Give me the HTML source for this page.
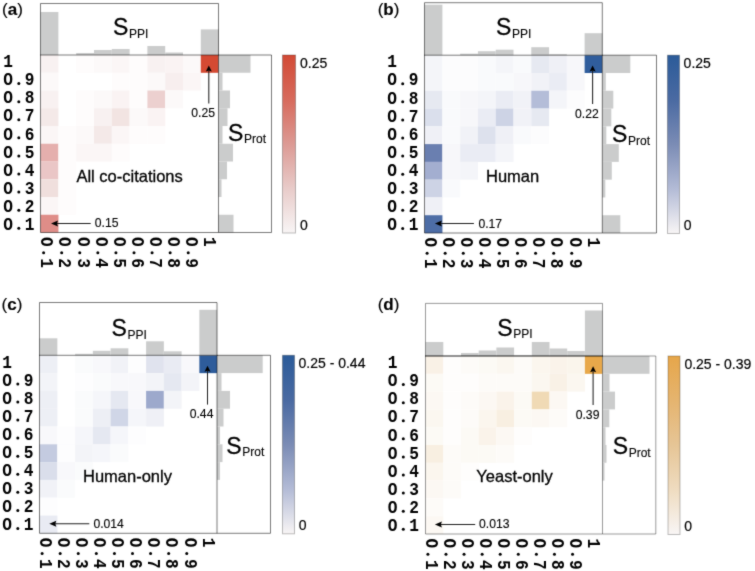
<!DOCTYPE html><html><head><meta charset="utf-8"><style>html,body{margin:0;padding:0;background:#fff;width:755px;height:571px;overflow:hidden}svg{display:block}#w{width:755px;height:571px}text{fill:#000}</style></head><body>
<div id="w"><svg width="755" height="571" viewBox="0 0 755 571"><defs><filter id="bl" color-interpolation-filters="sRGB" x="0" y="0" width="755" height="571" filterUnits="userSpaceOnUse"><feConvolveMatrix order="3" kernelMatrix="0.025 0.08 0.025 0.08 0.58 0.08 0.025 0.08 0.025" preserveAlpha="true"/></filter></defs><rect width="755" height="571" fill="#fff"/><g filter="url(#bl)"><rect width="755" height="571" fill="#fff"/>
<rect x="40.60" y="55.00" width="17.85" height="17.80" fill="#f8f1f1"/>
<rect x="76.20" y="55.00" width="17.85" height="17.80" fill="#fefcfc"/>
<rect x="94.00" y="55.00" width="17.85" height="17.80" fill="#fcf9f9"/>
<rect x="111.80" y="55.00" width="17.85" height="17.80" fill="#fbf6f6"/>
<rect x="129.60" y="55.00" width="17.85" height="17.80" fill="#fefcfc"/>
<rect x="147.40" y="55.00" width="17.85" height="17.80" fill="#f8f1f1"/>
<rect x="165.20" y="55.00" width="17.85" height="17.80" fill="#faf3f3"/>
<rect x="183.00" y="55.00" width="17.85" height="17.80" fill="#fcf9f9"/>
<rect x="200.80" y="55.00" width="17.85" height="17.80" fill="#d44a33"/>
<rect x="40.60" y="72.75" width="17.85" height="17.80" fill="#fcf9f9"/>
<rect x="111.80" y="72.75" width="17.85" height="17.80" fill="#fefcfc"/>
<rect x="129.60" y="72.75" width="17.85" height="17.80" fill="#fefcfc"/>
<rect x="147.40" y="72.75" width="17.85" height="17.80" fill="#fcf9f9"/>
<rect x="165.20" y="72.75" width="17.85" height="17.80" fill="#f7eeee"/>
<rect x="183.00" y="72.75" width="17.85" height="17.80" fill="#fbf6f6"/>
<rect x="40.60" y="90.50" width="17.85" height="17.80" fill="#f8f1f1"/>
<rect x="76.20" y="90.50" width="17.85" height="17.80" fill="#fefcfc"/>
<rect x="94.00" y="90.50" width="17.85" height="17.80" fill="#fcf9f9"/>
<rect x="111.80" y="90.50" width="17.85" height="17.80" fill="#faf3f3"/>
<rect x="129.60" y="90.50" width="17.85" height="17.80" fill="#fefcfc"/>
<rect x="147.40" y="90.50" width="17.85" height="17.80" fill="#ecd0cf"/>
<rect x="165.20" y="90.50" width="17.85" height="17.80" fill="#fcf9f9"/>
<rect x="40.60" y="108.25" width="17.85" height="17.80" fill="#f4e9e8"/>
<rect x="76.20" y="108.25" width="17.85" height="17.80" fill="#fefcfc"/>
<rect x="94.00" y="108.25" width="17.85" height="17.80" fill="#f8f1f1"/>
<rect x="111.80" y="108.25" width="17.85" height="17.80" fill="#f2e4e2"/>
<rect x="129.60" y="108.25" width="17.85" height="17.80" fill="#fcf9f9"/>
<rect x="147.40" y="108.25" width="17.85" height="17.80" fill="#faf3f3"/>
<rect x="40.60" y="126.00" width="17.85" height="17.80" fill="#fbf6f6"/>
<rect x="58.40" y="126.00" width="17.85" height="17.80" fill="#fefcfc"/>
<rect x="76.20" y="126.00" width="17.85" height="17.80" fill="#fcf9f9"/>
<rect x="94.00" y="126.00" width="17.85" height="17.80" fill="#f4e9e8"/>
<rect x="111.80" y="126.00" width="17.85" height="17.80" fill="#fbf6f6"/>
<rect x="129.60" y="126.00" width="17.85" height="17.80" fill="#fefcfc"/>
<rect x="147.40" y="126.00" width="17.85" height="17.80" fill="#fefcfc"/>
<rect x="40.60" y="143.75" width="17.85" height="17.80" fill="#e5afad"/>
<rect x="58.40" y="143.75" width="17.85" height="17.80" fill="#fefcfc"/>
<rect x="76.20" y="143.75" width="17.85" height="17.80" fill="#fbf6f6"/>
<rect x="94.00" y="143.75" width="17.85" height="17.80" fill="#fbf6f6"/>
<rect x="111.80" y="143.75" width="17.85" height="17.80" fill="#fefcfc"/>
<rect x="40.60" y="161.50" width="17.85" height="17.80" fill="#eac6c6"/>
<rect x="58.40" y="161.50" width="17.85" height="17.80" fill="#fefcfc"/>
<rect x="40.60" y="179.25" width="17.85" height="17.80" fill="#f0dfdd"/>
<rect x="58.40" y="179.25" width="17.85" height="17.80" fill="#fefcfc"/>
<rect x="40.60" y="197.00" width="17.85" height="17.80" fill="#fbf6f6"/>
<rect x="58.40" y="197.00" width="17.85" height="17.80" fill="#fefcfc"/>
<rect x="40.60" y="214.75" width="17.85" height="17.80" fill="#df8d88"/>
<rect x="40.60" y="12.00" width="17.80" height="43.00" fill="#cbcccc"/>
<rect x="76.20" y="53.00" width="17.80" height="2.00" fill="#cbcccc"/>
<rect x="94.00" y="50.00" width="17.80" height="5.00" fill="#cbcccc"/>
<rect x="111.80" y="49.00" width="17.80" height="6.00" fill="#cbcccc"/>
<rect x="147.40" y="46.00" width="17.80" height="9.00" fill="#cbcccc"/>
<rect x="165.20" y="52.50" width="17.80" height="2.50" fill="#cbcccc"/>
<rect x="200.80" y="29.40" width="17.80" height="25.60" fill="#cbcccc"/>
<rect x="218.50" y="55.00" width="32.00" height="17.75" fill="#cbcccc"/>
<rect x="218.50" y="72.75" width="4.00" height="17.75" fill="#cbcccc"/>
<rect x="218.50" y="90.50" width="11.50" height="17.75" fill="#cbcccc"/>
<rect x="218.50" y="108.25" width="9.00" height="17.75" fill="#cbcccc"/>
<rect x="218.50" y="126.00" width="4.00" height="17.75" fill="#cbcccc"/>
<rect x="218.50" y="143.75" width="14.50" height="17.75" fill="#cbcccc"/>
<rect x="218.50" y="161.50" width="8.50" height="17.75" fill="#cbcccc"/>
<rect x="218.50" y="179.25" width="3.00" height="17.75" fill="#cbcccc"/>
<rect x="218.50" y="214.75" width="15.00" height="17.75" fill="#cbcccc"/>
<path d="M40.5 232.5 L40.5 3.5 L218.5 3.5 L218.5 232.5 Z M218.5 55 L271.5 55 L271.5 232.5 L218.5 232.5" fill="none" stroke="rgba(0,0,0,0.52)" stroke-width="1"/>
<path d="M40.0 55 L219.0 55" fill="none" stroke="rgba(0,0,0,0.52)" stroke-width="1"/>
<defs><linearGradient id="ga" x1="0" y1="1" x2="0" y2="0"><stop offset="0" stop-color="#f8f5f5"/><stop offset="0.25" stop-color="#e8cbc9"/><stop offset="0.5" stop-color="#dc9a94"/><stop offset="0.75" stop-color="#d76a5c"/><stop offset="1" stop-color="#d24a35"/></linearGradient></defs>
<rect x="282.50" y="55.00" width="13.00" height="178.00" fill="url(#ga)" stroke="rgba(0,0,0,0.25)" stroke-width="1"/>
<text transform="translate(3.30,67.20) scale(0.95,1.06)" font-family="Liberation Mono" font-weight="bold" font-size="17">1</text>
<text transform="translate(3.30,85.28) scale(0.95,1.06)" font-family="Liberation Mono" font-weight="bold" font-size="17">O</text>
<circle cx="18.80" cy="83.58" r="1.5" fill="#000"/>
<text transform="translate(24.80,85.28) scale(0.95,1.06)" font-family="Liberation Mono" font-weight="bold" font-size="17">9</text>
<text transform="translate(3.30,103.36) scale(0.95,1.06)" font-family="Liberation Mono" font-weight="bold" font-size="17">O</text>
<circle cx="18.80" cy="101.66" r="1.5" fill="#000"/>
<text transform="translate(24.80,103.36) scale(0.95,1.06)" font-family="Liberation Mono" font-weight="bold" font-size="17">8</text>
<text transform="translate(3.30,121.44) scale(0.95,1.06)" font-family="Liberation Mono" font-weight="bold" font-size="17">O</text>
<circle cx="18.80" cy="119.74" r="1.5" fill="#000"/>
<text transform="translate(24.80,121.44) scale(0.95,1.06)" font-family="Liberation Mono" font-weight="bold" font-size="17">7</text>
<text transform="translate(3.30,139.52) scale(0.95,1.06)" font-family="Liberation Mono" font-weight="bold" font-size="17">O</text>
<circle cx="18.80" cy="137.82" r="1.5" fill="#000"/>
<text transform="translate(24.80,139.52) scale(0.95,1.06)" font-family="Liberation Mono" font-weight="bold" font-size="17">6</text>
<text transform="translate(3.30,157.60) scale(0.95,1.06)" font-family="Liberation Mono" font-weight="bold" font-size="17">O</text>
<circle cx="18.80" cy="155.90" r="1.5" fill="#000"/>
<text transform="translate(24.80,157.60) scale(0.95,1.06)" font-family="Liberation Mono" font-weight="bold" font-size="17">5</text>
<text transform="translate(3.30,175.68) scale(0.95,1.06)" font-family="Liberation Mono" font-weight="bold" font-size="17">O</text>
<circle cx="18.80" cy="173.98" r="1.5" fill="#000"/>
<text transform="translate(24.80,175.68) scale(0.95,1.06)" font-family="Liberation Mono" font-weight="bold" font-size="17">4</text>
<text transform="translate(3.30,193.76) scale(0.95,1.06)" font-family="Liberation Mono" font-weight="bold" font-size="17">O</text>
<circle cx="18.80" cy="192.06" r="1.5" fill="#000"/>
<text transform="translate(24.80,193.76) scale(0.95,1.06)" font-family="Liberation Mono" font-weight="bold" font-size="17">3</text>
<text transform="translate(3.30,211.84) scale(0.95,1.06)" font-family="Liberation Mono" font-weight="bold" font-size="17">O</text>
<circle cx="18.80" cy="210.14" r="1.5" fill="#000"/>
<text transform="translate(24.80,211.84) scale(0.95,1.06)" font-family="Liberation Mono" font-weight="bold" font-size="17">2</text>
<text transform="translate(3.30,229.92) scale(0.95,1.06)" font-family="Liberation Mono" font-weight="bold" font-size="17">O</text>
<circle cx="18.80" cy="228.22" r="1.5" fill="#000"/>
<text transform="translate(24.80,229.92) scale(0.95,1.06)" font-family="Liberation Mono" font-weight="bold" font-size="17">1</text>
<text transform="translate(41.40,236.90) rotate(90) scale(0.95,1.06)" font-family="Liberation Mono" font-weight="bold" font-size="17">O</text>
<circle cx="43.60" cy="252.70" r="1.5" fill="#000"/>
<text transform="translate(41.40,258.30) rotate(90) scale(0.95,1.06)" font-family="Liberation Mono" font-weight="bold" font-size="17">1</text>
<text transform="translate(59.48,236.90) rotate(90) scale(0.95,1.06)" font-family="Liberation Mono" font-weight="bold" font-size="17">O</text>
<circle cx="61.68" cy="252.70" r="1.5" fill="#000"/>
<text transform="translate(59.48,258.30) rotate(90) scale(0.95,1.06)" font-family="Liberation Mono" font-weight="bold" font-size="17">2</text>
<text transform="translate(77.56,236.90) rotate(90) scale(0.95,1.06)" font-family="Liberation Mono" font-weight="bold" font-size="17">O</text>
<circle cx="79.76" cy="252.70" r="1.5" fill="#000"/>
<text transform="translate(77.56,258.30) rotate(90) scale(0.95,1.06)" font-family="Liberation Mono" font-weight="bold" font-size="17">3</text>
<text transform="translate(95.64,236.90) rotate(90) scale(0.95,1.06)" font-family="Liberation Mono" font-weight="bold" font-size="17">O</text>
<circle cx="97.84" cy="252.70" r="1.5" fill="#000"/>
<text transform="translate(95.64,258.30) rotate(90) scale(0.95,1.06)" font-family="Liberation Mono" font-weight="bold" font-size="17">4</text>
<text transform="translate(113.72,236.90) rotate(90) scale(0.95,1.06)" font-family="Liberation Mono" font-weight="bold" font-size="17">O</text>
<circle cx="115.92" cy="252.70" r="1.5" fill="#000"/>
<text transform="translate(113.72,258.30) rotate(90) scale(0.95,1.06)" font-family="Liberation Mono" font-weight="bold" font-size="17">5</text>
<text transform="translate(131.80,236.90) rotate(90) scale(0.95,1.06)" font-family="Liberation Mono" font-weight="bold" font-size="17">O</text>
<circle cx="134.00" cy="252.70" r="1.5" fill="#000"/>
<text transform="translate(131.80,258.30) rotate(90) scale(0.95,1.06)" font-family="Liberation Mono" font-weight="bold" font-size="17">6</text>
<text transform="translate(149.88,236.90) rotate(90) scale(0.95,1.06)" font-family="Liberation Mono" font-weight="bold" font-size="17">O</text>
<circle cx="152.08" cy="252.70" r="1.5" fill="#000"/>
<text transform="translate(149.88,258.30) rotate(90) scale(0.95,1.06)" font-family="Liberation Mono" font-weight="bold" font-size="17">7</text>
<text transform="translate(167.96,236.90) rotate(90) scale(0.95,1.06)" font-family="Liberation Mono" font-weight="bold" font-size="17">O</text>
<circle cx="170.16" cy="252.70" r="1.5" fill="#000"/>
<text transform="translate(167.96,258.30) rotate(90) scale(0.95,1.06)" font-family="Liberation Mono" font-weight="bold" font-size="17">8</text>
<text transform="translate(186.04,236.90) rotate(90) scale(0.95,1.06)" font-family="Liberation Mono" font-weight="bold" font-size="17">O</text>
<circle cx="188.24" cy="252.70" r="1.5" fill="#000"/>
<text transform="translate(186.04,258.30) rotate(90) scale(0.95,1.06)" font-family="Liberation Mono" font-weight="bold" font-size="17">9</text>
<text transform="translate(204.12,236.90) rotate(90) scale(0.95,1.06)" font-family="Liberation Mono" font-weight="bold" font-size="17">1</text>
<text x="2" y="15" font-family="Liberation Sans" font-size="17" stroke="#000" stroke-width="0.15">(<tspan font-weight="bold">a</tspan>)</text>
<text x="113" y="35" font-family="Liberation Sans" font-size="23" stroke="#000" stroke-width="0.3" >S</text>
<text x="129" y="37.5" font-family="Liberation Sans" font-size="12" stroke="#000" stroke-width="0.12" >PPI</text>
<text x="228" y="140.5" font-family="Liberation Sans" font-size="23" stroke="#000" stroke-width="0.3" >S</text>
<text x="244" y="143" font-family="Liberation Sans" font-size="12" stroke="#000" stroke-width="0.12" >Prot</text>
<text x="76.4" y="181.5" font-family="Liberation Sans" font-size="16.5" stroke="#000" stroke-width="0.3" >All co-citations</text>
<text x="191.3" y="116.9" font-family="Liberation Sans" font-size="12.2" stroke="#000" stroke-width="0.12" >0.25</text>
<text x="94.8" y="227.4" font-family="Liberation Sans" font-size="12.2" stroke="#000" stroke-width="0.12" >0.15</text>
<text x="300" y="67.7" font-family="Liberation Sans" font-size="14" stroke="#000" stroke-width="0.2" >0.25</text>
<text x="300" y="229.9" font-family="Liberation Sans" font-size="14" stroke="#000" stroke-width="0.2" >0</text>
<line x1="208.8" y1="70.4" x2="208.8" y2="103.4" stroke="#1e1e1e" stroke-width="1.05"/>
<path d="M208.8 65.4 L205.8 71.4 L208.8 70.4 L211.8 71.4 Z" fill="#000"/>
<line x1="56" y1="223.5" x2="90.7" y2="223.5" stroke="#1e1e1e" stroke-width="1.05"/>
<path d="M51 223.5 L58 220.5 L57 223.5 L58 226.5 Z" fill="#000"/>
<rect x="424.60" y="55.20" width="17.83" height="17.83" fill="#f4f5f9"/>
<rect x="442.38" y="55.20" width="17.83" height="17.83" fill="#fcfcfd"/>
<rect x="460.16" y="55.20" width="17.83" height="17.83" fill="#fcfcfd"/>
<rect x="477.94" y="55.20" width="17.83" height="17.83" fill="#f9fafc"/>
<rect x="495.72" y="55.20" width="17.83" height="17.83" fill="#f4f5f9"/>
<rect x="513.50" y="55.20" width="17.83" height="17.83" fill="#f9fafc"/>
<rect x="531.28" y="55.20" width="17.83" height="17.83" fill="#e6e9f1"/>
<rect x="549.06" y="55.20" width="17.83" height="17.83" fill="#eff0f6"/>
<rect x="566.84" y="55.20" width="17.83" height="17.83" fill="#f7f7fa"/>
<rect x="584.62" y="55.20" width="17.83" height="17.83" fill="#305d9c"/>
<rect x="424.60" y="72.98" width="17.83" height="17.83" fill="#f4f5f9"/>
<rect x="442.38" y="72.98" width="17.83" height="17.83" fill="#fcfcfd"/>
<rect x="460.16" y="72.98" width="17.83" height="17.83" fill="#fcfcfd"/>
<rect x="477.94" y="72.98" width="17.83" height="17.83" fill="#f9fafc"/>
<rect x="495.72" y="72.98" width="17.83" height="17.83" fill="#f9fafc"/>
<rect x="513.50" y="72.98" width="17.83" height="17.83" fill="#f7f7fa"/>
<rect x="531.28" y="72.98" width="17.83" height="17.83" fill="#f1f2f7"/>
<rect x="549.06" y="72.98" width="17.83" height="17.83" fill="#eaecf4"/>
<rect x="566.84" y="72.98" width="17.83" height="17.83" fill="#f7f7fa"/>
<rect x="424.60" y="90.76" width="17.83" height="17.83" fill="#e6e9f1"/>
<rect x="442.38" y="90.76" width="17.83" height="17.83" fill="#f9fafc"/>
<rect x="460.16" y="90.76" width="17.83" height="17.83" fill="#f7f7fa"/>
<rect x="477.94" y="90.76" width="17.83" height="17.83" fill="#f4f5f9"/>
<rect x="495.72" y="90.76" width="17.83" height="17.83" fill="#eaecf4"/>
<rect x="513.50" y="90.76" width="17.83" height="17.83" fill="#f1f2f7"/>
<rect x="531.28" y="90.76" width="17.83" height="17.83" fill="#b4bdd8"/>
<rect x="549.06" y="90.76" width="17.83" height="17.83" fill="#f4f5f9"/>
<rect x="566.84" y="90.76" width="17.83" height="17.83" fill="#fcfcfd"/>
<rect x="424.60" y="108.54" width="17.83" height="17.83" fill="#dadfec"/>
<rect x="442.38" y="108.54" width="17.83" height="17.83" fill="#f9fafc"/>
<rect x="460.16" y="108.54" width="17.83" height="17.83" fill="#f7f7fa"/>
<rect x="477.94" y="108.54" width="17.83" height="17.83" fill="#eaecf4"/>
<rect x="495.72" y="108.54" width="17.83" height="17.83" fill="#cdd3e5"/>
<rect x="513.50" y="108.54" width="17.83" height="17.83" fill="#f1f2f7"/>
<rect x="531.28" y="108.54" width="17.83" height="17.83" fill="#e6e9f1"/>
<rect x="424.60" y="126.32" width="17.83" height="17.83" fill="#eff0f6"/>
<rect x="442.38" y="126.32" width="17.83" height="17.83" fill="#f9fafc"/>
<rect x="460.16" y="126.32" width="17.83" height="17.83" fill="#f1f2f7"/>
<rect x="477.94" y="126.32" width="17.83" height="17.83" fill="#dde1ed"/>
<rect x="495.72" y="126.32" width="17.83" height="17.83" fill="#eff0f6"/>
<rect x="513.50" y="126.32" width="17.83" height="17.83" fill="#f9fafc"/>
<rect x="531.28" y="126.32" width="17.83" height="17.83" fill="#fcfcfd"/>
<rect x="424.60" y="144.10" width="17.83" height="17.83" fill="#6a7fb0"/>
<rect x="442.38" y="144.10" width="17.83" height="17.83" fill="#f7f7fa"/>
<rect x="460.16" y="144.10" width="17.83" height="17.83" fill="#eaecf4"/>
<rect x="477.94" y="144.10" width="17.83" height="17.83" fill="#eaecf4"/>
<rect x="495.72" y="144.10" width="17.83" height="17.83" fill="#f4f5f9"/>
<rect x="424.60" y="161.88" width="17.83" height="17.83" fill="#a3aed0"/>
<rect x="442.38" y="161.88" width="17.83" height="17.83" fill="#f7f7fa"/>
<rect x="460.16" y="161.88" width="17.83" height="17.83" fill="#f4f5f9"/>
<rect x="424.60" y="179.66" width="17.83" height="17.83" fill="#cdd3e5"/>
<rect x="442.38" y="179.66" width="17.83" height="17.83" fill="#f9fafc"/>
<rect x="424.60" y="197.44" width="17.83" height="17.83" fill="#eff0f6"/>
<rect x="424.60" y="215.22" width="17.83" height="17.83" fill="#4d6da6"/>
<rect x="424.60" y="4.70" width="17.78" height="50.50" fill="#cbcccc"/>
<rect x="460.16" y="53.70" width="17.78" height="1.50" fill="#cbcccc"/>
<rect x="477.94" y="51.20" width="17.78" height="4.00" fill="#cbcccc"/>
<rect x="495.72" y="49.70" width="17.78" height="5.50" fill="#cbcccc"/>
<rect x="531.28" y="47.20" width="17.78" height="8.00" fill="#cbcccc"/>
<rect x="549.06" y="54.20" width="17.78" height="1.00" fill="#cbcccc"/>
<rect x="584.62" y="33.20" width="17.78" height="22.00" fill="#cbcccc"/>
<rect x="602.30" y="55.20" width="28.00" height="17.78" fill="#cbcccc"/>
<rect x="602.30" y="72.98" width="3.50" height="17.78" fill="#cbcccc"/>
<rect x="602.30" y="90.76" width="11.00" height="17.78" fill="#cbcccc"/>
<rect x="602.30" y="108.54" width="9.00" height="17.78" fill="#cbcccc"/>
<rect x="602.30" y="126.32" width="4.00" height="17.78" fill="#cbcccc"/>
<rect x="602.30" y="144.10" width="16.50" height="17.78" fill="#cbcccc"/>
<rect x="602.30" y="161.88" width="9.50" height="17.78" fill="#cbcccc"/>
<rect x="602.30" y="179.66" width="3.00" height="17.78" fill="#cbcccc"/>
<rect x="602.30" y="215.22" width="18.00" height="17.78" fill="#cbcccc"/>
<path d="M424.5 233 L424.5 2.7 L602.3 2.7 L602.3 233 Z M602.3 55.2 L656.5 55.2 L656.5 233 L602.3 233" fill="none" stroke="rgba(0,0,0,0.52)" stroke-width="1"/>
<path d="M424.0 55.2 L602.8 55.2" fill="none" stroke="rgba(0,0,0,0.52)" stroke-width="1"/>
<defs><linearGradient id="gb" x1="0" y1="1" x2="0" y2="0"><stop offset="0" stop-color="#f8f5f5"/><stop offset="0.25" stop-color="#b3bbd6"/><stop offset="0.5" stop-color="#7b8cb5"/><stop offset="0.75" stop-color="#4a6aa2"/><stop offset="1" stop-color="#2b5b99"/></linearGradient></defs>
<rect x="667.50" y="55.20" width="12.00" height="178.30" fill="url(#gb)" stroke="rgba(0,0,0,0.25)" stroke-width="1"/>
<text transform="translate(387.20,67.40) scale(0.95,1.06)" font-family="Liberation Mono" font-weight="bold" font-size="17">1</text>
<text transform="translate(387.20,85.48) scale(0.95,1.06)" font-family="Liberation Mono" font-weight="bold" font-size="17">O</text>
<circle cx="402.70" cy="83.78" r="1.5" fill="#000"/>
<text transform="translate(408.70,85.48) scale(0.95,1.06)" font-family="Liberation Mono" font-weight="bold" font-size="17">9</text>
<text transform="translate(387.20,103.56) scale(0.95,1.06)" font-family="Liberation Mono" font-weight="bold" font-size="17">O</text>
<circle cx="402.70" cy="101.86" r="1.5" fill="#000"/>
<text transform="translate(408.70,103.56) scale(0.95,1.06)" font-family="Liberation Mono" font-weight="bold" font-size="17">8</text>
<text transform="translate(387.20,121.64) scale(0.95,1.06)" font-family="Liberation Mono" font-weight="bold" font-size="17">O</text>
<circle cx="402.70" cy="119.94" r="1.5" fill="#000"/>
<text transform="translate(408.70,121.64) scale(0.95,1.06)" font-family="Liberation Mono" font-weight="bold" font-size="17">7</text>
<text transform="translate(387.20,139.72) scale(0.95,1.06)" font-family="Liberation Mono" font-weight="bold" font-size="17">O</text>
<circle cx="402.70" cy="138.02" r="1.5" fill="#000"/>
<text transform="translate(408.70,139.72) scale(0.95,1.06)" font-family="Liberation Mono" font-weight="bold" font-size="17">6</text>
<text transform="translate(387.20,157.80) scale(0.95,1.06)" font-family="Liberation Mono" font-weight="bold" font-size="17">O</text>
<circle cx="402.70" cy="156.10" r="1.5" fill="#000"/>
<text transform="translate(408.70,157.80) scale(0.95,1.06)" font-family="Liberation Mono" font-weight="bold" font-size="17">5</text>
<text transform="translate(387.20,175.88) scale(0.95,1.06)" font-family="Liberation Mono" font-weight="bold" font-size="17">O</text>
<circle cx="402.70" cy="174.18" r="1.5" fill="#000"/>
<text transform="translate(408.70,175.88) scale(0.95,1.06)" font-family="Liberation Mono" font-weight="bold" font-size="17">4</text>
<text transform="translate(387.20,193.96) scale(0.95,1.06)" font-family="Liberation Mono" font-weight="bold" font-size="17">O</text>
<circle cx="402.70" cy="192.26" r="1.5" fill="#000"/>
<text transform="translate(408.70,193.96) scale(0.95,1.06)" font-family="Liberation Mono" font-weight="bold" font-size="17">3</text>
<text transform="translate(387.20,212.04) scale(0.95,1.06)" font-family="Liberation Mono" font-weight="bold" font-size="17">O</text>
<circle cx="402.70" cy="210.34" r="1.5" fill="#000"/>
<text transform="translate(408.70,212.04) scale(0.95,1.06)" font-family="Liberation Mono" font-weight="bold" font-size="17">2</text>
<text transform="translate(387.20,230.12) scale(0.95,1.06)" font-family="Liberation Mono" font-weight="bold" font-size="17">O</text>
<circle cx="402.70" cy="228.42" r="1.5" fill="#000"/>
<text transform="translate(408.70,230.12) scale(0.95,1.06)" font-family="Liberation Mono" font-weight="bold" font-size="17">1</text>
<text transform="translate(424.90,237.40) rotate(90) scale(0.95,1.06)" font-family="Liberation Mono" font-weight="bold" font-size="17">O</text>
<circle cx="427.10" cy="253.20" r="1.5" fill="#000"/>
<text transform="translate(424.90,258.80) rotate(90) scale(0.95,1.06)" font-family="Liberation Mono" font-weight="bold" font-size="17">1</text>
<text transform="translate(442.98,237.40) rotate(90) scale(0.95,1.06)" font-family="Liberation Mono" font-weight="bold" font-size="17">O</text>
<circle cx="445.18" cy="253.20" r="1.5" fill="#000"/>
<text transform="translate(442.98,258.80) rotate(90) scale(0.95,1.06)" font-family="Liberation Mono" font-weight="bold" font-size="17">2</text>
<text transform="translate(461.06,237.40) rotate(90) scale(0.95,1.06)" font-family="Liberation Mono" font-weight="bold" font-size="17">O</text>
<circle cx="463.26" cy="253.20" r="1.5" fill="#000"/>
<text transform="translate(461.06,258.80) rotate(90) scale(0.95,1.06)" font-family="Liberation Mono" font-weight="bold" font-size="17">3</text>
<text transform="translate(479.14,237.40) rotate(90) scale(0.95,1.06)" font-family="Liberation Mono" font-weight="bold" font-size="17">O</text>
<circle cx="481.34" cy="253.20" r="1.5" fill="#000"/>
<text transform="translate(479.14,258.80) rotate(90) scale(0.95,1.06)" font-family="Liberation Mono" font-weight="bold" font-size="17">4</text>
<text transform="translate(497.22,237.40) rotate(90) scale(0.95,1.06)" font-family="Liberation Mono" font-weight="bold" font-size="17">O</text>
<circle cx="499.42" cy="253.20" r="1.5" fill="#000"/>
<text transform="translate(497.22,258.80) rotate(90) scale(0.95,1.06)" font-family="Liberation Mono" font-weight="bold" font-size="17">5</text>
<text transform="translate(515.30,237.40) rotate(90) scale(0.95,1.06)" font-family="Liberation Mono" font-weight="bold" font-size="17">O</text>
<circle cx="517.50" cy="253.20" r="1.5" fill="#000"/>
<text transform="translate(515.30,258.80) rotate(90) scale(0.95,1.06)" font-family="Liberation Mono" font-weight="bold" font-size="17">6</text>
<text transform="translate(533.38,237.40) rotate(90) scale(0.95,1.06)" font-family="Liberation Mono" font-weight="bold" font-size="17">O</text>
<circle cx="535.58" cy="253.20" r="1.5" fill="#000"/>
<text transform="translate(533.38,258.80) rotate(90) scale(0.95,1.06)" font-family="Liberation Mono" font-weight="bold" font-size="17">7</text>
<text transform="translate(551.46,237.40) rotate(90) scale(0.95,1.06)" font-family="Liberation Mono" font-weight="bold" font-size="17">O</text>
<circle cx="553.66" cy="253.20" r="1.5" fill="#000"/>
<text transform="translate(551.46,258.80) rotate(90) scale(0.95,1.06)" font-family="Liberation Mono" font-weight="bold" font-size="17">8</text>
<text transform="translate(569.54,237.40) rotate(90) scale(0.95,1.06)" font-family="Liberation Mono" font-weight="bold" font-size="17">O</text>
<circle cx="571.74" cy="253.20" r="1.5" fill="#000"/>
<text transform="translate(569.54,258.80) rotate(90) scale(0.95,1.06)" font-family="Liberation Mono" font-weight="bold" font-size="17">9</text>
<text transform="translate(587.62,237.40) rotate(90) scale(0.95,1.06)" font-family="Liberation Mono" font-weight="bold" font-size="17">1</text>
<text x="377.7" y="15" font-family="Liberation Sans" font-size="17" stroke="#000" stroke-width="0.15">(<tspan font-weight="bold">b</tspan>)</text>
<text x="496" y="35" font-family="Liberation Sans" font-size="23" stroke="#000" stroke-width="0.3" >S</text>
<text x="512" y="37.5" font-family="Liberation Sans" font-size="12" stroke="#000" stroke-width="0.12" >PPI</text>
<text x="612" y="142" font-family="Liberation Sans" font-size="23" stroke="#000" stroke-width="0.3" >S</text>
<text x="628" y="144.5" font-family="Liberation Sans" font-size="12" stroke="#000" stroke-width="0.12" >Prot</text>
<text x="486" y="181.5" font-family="Liberation Sans" font-size="16.5" stroke="#000" stroke-width="0.3" >Human</text>
<text x="575" y="117.5" font-family="Liberation Sans" font-size="12.2" stroke="#000" stroke-width="0.12" >0.22</text>
<text x="478.4" y="227.5" font-family="Liberation Sans" font-size="12.2" stroke="#000" stroke-width="0.12" >0.17</text>
<text x="683.6" y="68.3" font-family="Liberation Sans" font-size="14" stroke="#000" stroke-width="0.2" >0.25</text>
<text x="683.8" y="230.1" font-family="Liberation Sans" font-size="14" stroke="#000" stroke-width="0.2" >0</text>
<line x1="592.6" y1="70.4" x2="592.6" y2="104" stroke="#1e1e1e" stroke-width="1.05"/>
<path d="M592.6 65.4 L589.6 71.4 L592.6 70.4 L595.6 71.4 Z" fill="#000"/>
<line x1="439.9" y1="223.5" x2="473.9" y2="223.5" stroke="#1e1e1e" stroke-width="1.05"/>
<path d="M434.9 223.5 L441.9 220.5 L440.9 223.5 L441.9 226.5 Z" fill="#000"/>
<rect x="39.60" y="355.30" width="17.80" height="17.85" fill="#edeff5"/>
<rect x="75.10" y="355.30" width="17.80" height="17.85" fill="#fafbfc"/>
<rect x="92.85" y="355.30" width="17.80" height="17.85" fill="#f8f8fb"/>
<rect x="110.60" y="355.30" width="17.80" height="17.85" fill="#f1f2f7"/>
<rect x="128.35" y="355.30" width="17.80" height="17.85" fill="#fdfdfe"/>
<rect x="146.10" y="355.30" width="17.80" height="17.85" fill="#e0e3ee"/>
<rect x="163.85" y="355.30" width="17.80" height="17.85" fill="#e9ebf3"/>
<rect x="181.60" y="355.30" width="17.80" height="17.85" fill="#f8f8fb"/>
<rect x="199.35" y="355.30" width="17.80" height="17.85" fill="#2e5c9b"/>
<rect x="39.60" y="373.10" width="17.80" height="17.85" fill="#f3f4f8"/>
<rect x="75.10" y="373.10" width="17.80" height="17.85" fill="#fdfdfe"/>
<rect x="92.85" y="373.10" width="17.80" height="17.85" fill="#fafbfc"/>
<rect x="110.60" y="373.10" width="17.80" height="17.85" fill="#f8f8fb"/>
<rect x="128.35" y="373.10" width="17.80" height="17.85" fill="#f8f8fb"/>
<rect x="146.10" y="373.10" width="17.80" height="17.85" fill="#f3f4f8"/>
<rect x="163.85" y="373.10" width="17.80" height="17.85" fill="#e5e8f1"/>
<rect x="181.60" y="373.10" width="17.80" height="17.85" fill="#f3f4f8"/>
<rect x="39.60" y="390.90" width="17.80" height="17.85" fill="#edeff5"/>
<rect x="75.10" y="390.90" width="17.80" height="17.85" fill="#fafbfc"/>
<rect x="92.85" y="390.90" width="17.80" height="17.85" fill="#f5f6fa"/>
<rect x="110.60" y="390.90" width="17.80" height="17.85" fill="#e5e8f1"/>
<rect x="128.35" y="390.90" width="17.80" height="17.85" fill="#f8f8fb"/>
<rect x="146.10" y="390.90" width="17.80" height="17.85" fill="#9da9cc"/>
<rect x="163.85" y="390.90" width="17.80" height="17.85" fill="#f3f4f8"/>
<rect x="39.60" y="408.70" width="17.80" height="17.85" fill="#edeff5"/>
<rect x="75.10" y="408.70" width="17.80" height="17.85" fill="#fafbfc"/>
<rect x="92.85" y="408.70" width="17.80" height="17.85" fill="#edeff5"/>
<rect x="110.60" y="408.70" width="17.80" height="17.85" fill="#d0d6e7"/>
<rect x="128.35" y="408.70" width="17.80" height="17.85" fill="#f5f6fa"/>
<rect x="146.10" y="408.70" width="17.80" height="17.85" fill="#eff0f6"/>
<rect x="39.60" y="426.50" width="17.80" height="17.85" fill="#f8f8fb"/>
<rect x="57.35" y="426.50" width="17.80" height="17.85" fill="#fdfdfe"/>
<rect x="75.10" y="426.50" width="17.80" height="17.85" fill="#f5f6fa"/>
<rect x="92.85" y="426.50" width="17.80" height="17.85" fill="#e5e8f1"/>
<rect x="110.60" y="426.50" width="17.80" height="17.85" fill="#f5f6fa"/>
<rect x="128.35" y="426.50" width="17.80" height="17.85" fill="#fdfdfe"/>
<rect x="39.60" y="444.30" width="17.80" height="17.85" fill="#c4cbe0"/>
<rect x="57.35" y="444.30" width="17.80" height="17.85" fill="#fdfdfe"/>
<rect x="75.10" y="444.30" width="17.80" height="17.85" fill="#f3f4f8"/>
<rect x="92.85" y="444.30" width="17.80" height="17.85" fill="#f5f6fa"/>
<rect x="110.60" y="444.30" width="17.80" height="17.85" fill="#fafbfc"/>
<rect x="39.60" y="462.10" width="17.80" height="17.85" fill="#dadeeb"/>
<rect x="57.35" y="462.10" width="17.80" height="17.85" fill="#f8f8fb"/>
<rect x="75.10" y="462.10" width="17.80" height="17.85" fill="#fafbfc"/>
<rect x="39.60" y="479.90" width="17.80" height="17.85" fill="#f1f2f7"/>
<rect x="57.35" y="479.90" width="17.80" height="17.85" fill="#fafbfc"/>
<rect x="39.60" y="497.70" width="17.80" height="17.85" fill="#fdfdfe"/>
<rect x="39.60" y="515.50" width="17.80" height="17.85" fill="#e9ebf3"/>
<rect x="39.60" y="338.30" width="17.75" height="17.00" fill="#cbcccc"/>
<rect x="75.10" y="353.80" width="17.75" height="1.50" fill="#cbcccc"/>
<rect x="92.85" y="350.80" width="17.75" height="4.50" fill="#cbcccc"/>
<rect x="110.60" y="348.30" width="17.75" height="7.00" fill="#cbcccc"/>
<rect x="146.10" y="341.30" width="17.75" height="14.00" fill="#cbcccc"/>
<rect x="163.85" y="351.30" width="17.75" height="4.00" fill="#cbcccc"/>
<rect x="199.35" y="309.80" width="17.75" height="45.50" fill="#cbcccc"/>
<rect x="217.00" y="355.30" width="45.70" height="17.80" fill="#cbcccc"/>
<rect x="217.00" y="373.10" width="4.50" height="17.80" fill="#cbcccc"/>
<rect x="217.00" y="390.90" width="13.00" height="17.80" fill="#cbcccc"/>
<rect x="217.00" y="408.70" width="6.50" height="17.80" fill="#cbcccc"/>
<rect x="217.00" y="426.50" width="3.00" height="17.80" fill="#cbcccc"/>
<rect x="217.00" y="444.30" width="5.50" height="17.80" fill="#cbcccc"/>
<rect x="217.00" y="462.10" width="3.00" height="17.80" fill="#cbcccc"/>
<path d="M39.5 533.3 L39.5 302.5 L217 302.5 L217 533.3 Z M217 355.3 L270.5 355.3 L270.5 533.3 L217 533.3" fill="none" stroke="rgba(0,0,0,0.52)" stroke-width="1"/>
<path d="M39.0 355.3 L217.5 355.3" fill="none" stroke="rgba(0,0,0,0.52)" stroke-width="1"/>
<defs><linearGradient id="gc" x1="0" y1="1" x2="0" y2="0"><stop offset="0" stop-color="#f8f5f5"/><stop offset="0.25" stop-color="#b3bbd6"/><stop offset="0.5" stop-color="#7b8cb5"/><stop offset="0.75" stop-color="#4a6aa2"/><stop offset="1" stop-color="#2b5b99"/></linearGradient></defs>
<rect x="282.50" y="355.30" width="12.00" height="178.50" fill="url(#gc)" stroke="rgba(0,0,0,0.25)" stroke-width="1"/>
<text transform="translate(2.30,367.50) scale(0.95,1.06)" font-family="Liberation Mono" font-weight="bold" font-size="17">1</text>
<text transform="translate(2.30,385.58) scale(0.95,1.06)" font-family="Liberation Mono" font-weight="bold" font-size="17">O</text>
<circle cx="17.80" cy="383.88" r="1.5" fill="#000"/>
<text transform="translate(23.80,385.58) scale(0.95,1.06)" font-family="Liberation Mono" font-weight="bold" font-size="17">9</text>
<text transform="translate(2.30,403.66) scale(0.95,1.06)" font-family="Liberation Mono" font-weight="bold" font-size="17">O</text>
<circle cx="17.80" cy="401.96" r="1.5" fill="#000"/>
<text transform="translate(23.80,403.66) scale(0.95,1.06)" font-family="Liberation Mono" font-weight="bold" font-size="17">8</text>
<text transform="translate(2.30,421.74) scale(0.95,1.06)" font-family="Liberation Mono" font-weight="bold" font-size="17">O</text>
<circle cx="17.80" cy="420.04" r="1.5" fill="#000"/>
<text transform="translate(23.80,421.74) scale(0.95,1.06)" font-family="Liberation Mono" font-weight="bold" font-size="17">7</text>
<text transform="translate(2.30,439.82) scale(0.95,1.06)" font-family="Liberation Mono" font-weight="bold" font-size="17">O</text>
<circle cx="17.80" cy="438.12" r="1.5" fill="#000"/>
<text transform="translate(23.80,439.82) scale(0.95,1.06)" font-family="Liberation Mono" font-weight="bold" font-size="17">6</text>
<text transform="translate(2.30,457.90) scale(0.95,1.06)" font-family="Liberation Mono" font-weight="bold" font-size="17">O</text>
<circle cx="17.80" cy="456.20" r="1.5" fill="#000"/>
<text transform="translate(23.80,457.90) scale(0.95,1.06)" font-family="Liberation Mono" font-weight="bold" font-size="17">5</text>
<text transform="translate(2.30,475.98) scale(0.95,1.06)" font-family="Liberation Mono" font-weight="bold" font-size="17">O</text>
<circle cx="17.80" cy="474.28" r="1.5" fill="#000"/>
<text transform="translate(23.80,475.98) scale(0.95,1.06)" font-family="Liberation Mono" font-weight="bold" font-size="17">4</text>
<text transform="translate(2.30,494.06) scale(0.95,1.06)" font-family="Liberation Mono" font-weight="bold" font-size="17">O</text>
<circle cx="17.80" cy="492.36" r="1.5" fill="#000"/>
<text transform="translate(23.80,494.06) scale(0.95,1.06)" font-family="Liberation Mono" font-weight="bold" font-size="17">3</text>
<text transform="translate(2.30,512.14) scale(0.95,1.06)" font-family="Liberation Mono" font-weight="bold" font-size="17">O</text>
<circle cx="17.80" cy="510.44" r="1.5" fill="#000"/>
<text transform="translate(23.80,512.14) scale(0.95,1.06)" font-family="Liberation Mono" font-weight="bold" font-size="17">2</text>
<text transform="translate(2.30,530.22) scale(0.95,1.06)" font-family="Liberation Mono" font-weight="bold" font-size="17">O</text>
<circle cx="17.80" cy="528.52" r="1.5" fill="#000"/>
<text transform="translate(23.80,530.22) scale(0.95,1.06)" font-family="Liberation Mono" font-weight="bold" font-size="17">1</text>
<text transform="translate(39.90,537.70) rotate(90) scale(0.95,1.06)" font-family="Liberation Mono" font-weight="bold" font-size="17">O</text>
<circle cx="42.10" cy="553.50" r="1.5" fill="#000"/>
<text transform="translate(39.90,559.10) rotate(90) scale(0.95,1.06)" font-family="Liberation Mono" font-weight="bold" font-size="17">1</text>
<text transform="translate(57.98,537.70) rotate(90) scale(0.95,1.06)" font-family="Liberation Mono" font-weight="bold" font-size="17">O</text>
<circle cx="60.18" cy="553.50" r="1.5" fill="#000"/>
<text transform="translate(57.98,559.10) rotate(90) scale(0.95,1.06)" font-family="Liberation Mono" font-weight="bold" font-size="17">2</text>
<text transform="translate(76.06,537.70) rotate(90) scale(0.95,1.06)" font-family="Liberation Mono" font-weight="bold" font-size="17">O</text>
<circle cx="78.26" cy="553.50" r="1.5" fill="#000"/>
<text transform="translate(76.06,559.10) rotate(90) scale(0.95,1.06)" font-family="Liberation Mono" font-weight="bold" font-size="17">3</text>
<text transform="translate(94.14,537.70) rotate(90) scale(0.95,1.06)" font-family="Liberation Mono" font-weight="bold" font-size="17">O</text>
<circle cx="96.34" cy="553.50" r="1.5" fill="#000"/>
<text transform="translate(94.14,559.10) rotate(90) scale(0.95,1.06)" font-family="Liberation Mono" font-weight="bold" font-size="17">4</text>
<text transform="translate(112.22,537.70) rotate(90) scale(0.95,1.06)" font-family="Liberation Mono" font-weight="bold" font-size="17">O</text>
<circle cx="114.42" cy="553.50" r="1.5" fill="#000"/>
<text transform="translate(112.22,559.10) rotate(90) scale(0.95,1.06)" font-family="Liberation Mono" font-weight="bold" font-size="17">5</text>
<text transform="translate(130.30,537.70) rotate(90) scale(0.95,1.06)" font-family="Liberation Mono" font-weight="bold" font-size="17">O</text>
<circle cx="132.50" cy="553.50" r="1.5" fill="#000"/>
<text transform="translate(130.30,559.10) rotate(90) scale(0.95,1.06)" font-family="Liberation Mono" font-weight="bold" font-size="17">6</text>
<text transform="translate(148.38,537.70) rotate(90) scale(0.95,1.06)" font-family="Liberation Mono" font-weight="bold" font-size="17">O</text>
<circle cx="150.58" cy="553.50" r="1.5" fill="#000"/>
<text transform="translate(148.38,559.10) rotate(90) scale(0.95,1.06)" font-family="Liberation Mono" font-weight="bold" font-size="17">7</text>
<text transform="translate(166.46,537.70) rotate(90) scale(0.95,1.06)" font-family="Liberation Mono" font-weight="bold" font-size="17">O</text>
<circle cx="168.66" cy="553.50" r="1.5" fill="#000"/>
<text transform="translate(166.46,559.10) rotate(90) scale(0.95,1.06)" font-family="Liberation Mono" font-weight="bold" font-size="17">8</text>
<text transform="translate(184.54,537.70) rotate(90) scale(0.95,1.06)" font-family="Liberation Mono" font-weight="bold" font-size="17">O</text>
<circle cx="186.74" cy="553.50" r="1.5" fill="#000"/>
<text transform="translate(184.54,559.10) rotate(90) scale(0.95,1.06)" font-family="Liberation Mono" font-weight="bold" font-size="17">9</text>
<text transform="translate(202.62,537.70) rotate(90) scale(0.95,1.06)" font-family="Liberation Mono" font-weight="bold" font-size="17">1</text>
<text x="1.6" y="309.5" font-family="Liberation Sans" font-size="17" stroke="#000" stroke-width="0.15">(<tspan font-weight="bold">c</tspan>)</text>
<text x="111.6" y="336.3" font-family="Liberation Sans" font-size="23" stroke="#000" stroke-width="0.3" >S</text>
<text x="127.6" y="338.8" font-family="Liberation Sans" font-size="12" stroke="#000" stroke-width="0.12" >PPI</text>
<text x="226.3" y="453.7" font-family="Liberation Sans" font-size="23" stroke="#000" stroke-width="0.3" >S</text>
<text x="242.3" y="456.2" font-family="Liberation Sans" font-size="12" stroke="#000" stroke-width="0.12" >Prot</text>
<text x="83" y="481.9" font-family="Liberation Sans" font-size="16.5" stroke="#000" stroke-width="0.3" >Human-only</text>
<text x="189.7" y="417.7" font-family="Liberation Sans" font-size="12.2" stroke="#000" stroke-width="0.12" >0.44</text>
<text x="93.4" y="527.9" font-family="Liberation Sans" font-size="12.2" stroke="#000" stroke-width="0.12" >0.014</text>
<text x="298.5" y="367.9" font-family="Liberation Sans" font-size="14" stroke="#000" stroke-width="0.2" >0.25 - 0.44</text>
<text x="298.8" y="530.1" font-family="Liberation Sans" font-size="14" stroke="#000" stroke-width="0.2" >0</text>
<line x1="207.5" y1="370.8" x2="207.5" y2="404.6" stroke="#1e1e1e" stroke-width="1.05"/>
<path d="M207.5 365.8 L204.5 371.8 L207.5 370.8 L210.5 371.8 Z" fill="#000"/>
<line x1="54.3" y1="523.8" x2="89.3" y2="523.8" stroke="#1e1e1e" stroke-width="1.05"/>
<path d="M49.3 523.8 L56.3 520.8 L55.3 523.8 L56.3 526.8 Z" fill="#000"/>
<rect x="425.60" y="356.00" width="17.75" height="17.85" fill="#f9f1e6"/>
<rect x="443.30" y="356.00" width="17.75" height="17.85" fill="#fefdfc"/>
<rect x="461.00" y="356.00" width="17.75" height="17.85" fill="#fdfbf8"/>
<rect x="478.70" y="356.00" width="17.75" height="17.85" fill="#fcfaf5"/>
<rect x="496.40" y="356.00" width="17.75" height="17.85" fill="#fbf7f0"/>
<rect x="514.10" y="356.00" width="17.75" height="17.85" fill="#fdfbf8"/>
<rect x="531.80" y="356.00" width="17.75" height="17.85" fill="#fbf6ee"/>
<rect x="549.50" y="356.00" width="17.75" height="17.85" fill="#faf3ea"/>
<rect x="567.20" y="356.00" width="17.75" height="17.85" fill="#faf5ec"/>
<rect x="584.90" y="356.00" width="17.75" height="17.85" fill="#e8a84a"/>
<rect x="425.60" y="373.80" width="17.75" height="17.85" fill="#fcfaf5"/>
<rect x="443.30" y="373.80" width="17.75" height="17.85" fill="#fefdfc"/>
<rect x="461.00" y="373.80" width="17.75" height="17.85" fill="#fefdfc"/>
<rect x="478.70" y="373.80" width="17.75" height="17.85" fill="#fdfbf8"/>
<rect x="496.40" y="373.80" width="17.75" height="17.85" fill="#fdfbf8"/>
<rect x="514.10" y="373.80" width="17.75" height="17.85" fill="#fdfbf8"/>
<rect x="531.80" y="373.80" width="17.75" height="17.85" fill="#fbf7f0"/>
<rect x="549.50" y="373.80" width="17.75" height="17.85" fill="#f9f1e6"/>
<rect x="567.20" y="373.80" width="17.75" height="17.85" fill="#fbf7f0"/>
<rect x="425.60" y="391.60" width="17.75" height="17.85" fill="#fcf8f3"/>
<rect x="443.30" y="391.60" width="17.75" height="17.85" fill="#fefdfc"/>
<rect x="461.00" y="391.60" width="17.75" height="17.85" fill="#fdfbf8"/>
<rect x="478.70" y="391.60" width="17.75" height="17.85" fill="#fcf8f3"/>
<rect x="496.40" y="391.60" width="17.75" height="17.85" fill="#faf3ea"/>
<rect x="514.10" y="391.60" width="17.75" height="17.85" fill="#fcfaf5"/>
<rect x="531.80" y="391.60" width="17.75" height="17.85" fill="#f0dab5"/>
<rect x="549.50" y="391.60" width="17.75" height="17.85" fill="#fcf8f3"/>
<rect x="425.60" y="409.40" width="17.75" height="17.85" fill="#fbf7f0"/>
<rect x="443.30" y="409.40" width="17.75" height="17.85" fill="#fefdfc"/>
<rect x="461.00" y="409.40" width="17.75" height="17.85" fill="#fdfbf8"/>
<rect x="478.70" y="409.40" width="17.75" height="17.85" fill="#fbf6ee"/>
<rect x="496.40" y="409.40" width="17.75" height="17.85" fill="#f8efe1"/>
<rect x="514.10" y="409.40" width="17.75" height="17.85" fill="#fcfaf5"/>
<rect x="531.80" y="409.40" width="17.75" height="17.85" fill="#fcf8f3"/>
<rect x="549.50" y="409.40" width="17.75" height="17.85" fill="#fdfbf8"/>
<rect x="425.60" y="427.20" width="17.75" height="17.85" fill="#fcfaf5"/>
<rect x="443.30" y="427.20" width="17.75" height="17.85" fill="#fefdfc"/>
<rect x="461.00" y="427.20" width="17.75" height="17.85" fill="#fcfaf5"/>
<rect x="478.70" y="427.20" width="17.75" height="17.85" fill="#faf3ea"/>
<rect x="496.40" y="427.20" width="17.75" height="17.85" fill="#fcf8f3"/>
<rect x="514.10" y="427.20" width="17.75" height="17.85" fill="#fefdfc"/>
<rect x="425.60" y="445.00" width="17.75" height="17.85" fill="#f8efe1"/>
<rect x="443.30" y="445.00" width="17.75" height="17.85" fill="#fdfbf8"/>
<rect x="461.00" y="445.00" width="17.75" height="17.85" fill="#fcfaf5"/>
<rect x="478.70" y="445.00" width="17.75" height="17.85" fill="#fcfaf5"/>
<rect x="496.40" y="445.00" width="17.75" height="17.85" fill="#fdfbf8"/>
<rect x="425.60" y="462.80" width="17.75" height="17.85" fill="#fbf6ee"/>
<rect x="443.30" y="462.80" width="17.75" height="17.85" fill="#fdfbf8"/>
<rect x="461.00" y="462.80" width="17.75" height="17.85" fill="#fefdfc"/>
<rect x="425.60" y="480.60" width="17.75" height="17.85" fill="#fcf8f3"/>
<rect x="443.30" y="480.60" width="17.75" height="17.85" fill="#fdfbf8"/>
<rect x="425.60" y="498.40" width="17.75" height="17.85" fill="#fdfbf8"/>
<rect x="425.60" y="516.20" width="17.75" height="17.85" fill="#fcf8f3"/>
<rect x="425.60" y="342.00" width="17.70" height="14.00" fill="#cbcccc"/>
<rect x="461.00" y="353.00" width="17.70" height="3.00" fill="#cbcccc"/>
<rect x="478.70" y="350.50" width="17.70" height="5.50" fill="#cbcccc"/>
<rect x="496.40" y="347.50" width="17.70" height="8.50" fill="#cbcccc"/>
<rect x="514.10" y="355.50" width="17.70" height="0.50" fill="#cbcccc"/>
<rect x="531.80" y="342.00" width="17.70" height="14.00" fill="#cbcccc"/>
<rect x="549.50" y="348.50" width="17.70" height="7.50" fill="#cbcccc"/>
<rect x="567.20" y="351.00" width="17.70" height="5.00" fill="#cbcccc"/>
<rect x="584.90" y="310.50" width="17.70" height="45.50" fill="#cbcccc"/>
<rect x="602.50" y="356.00" width="47.00" height="17.80" fill="#cbcccc"/>
<rect x="602.50" y="373.80" width="7.00" height="17.80" fill="#cbcccc"/>
<rect x="602.50" y="391.60" width="12.50" height="17.80" fill="#cbcccc"/>
<rect x="602.50" y="409.40" width="6.80" height="17.80" fill="#cbcccc"/>
<rect x="602.50" y="427.20" width="3.00" height="17.80" fill="#cbcccc"/>
<rect x="602.50" y="445.00" width="4.00" height="17.80" fill="#cbcccc"/>
<rect x="602.50" y="462.80" width="2.00" height="17.80" fill="#cbcccc"/>
<path d="M425.5 534 L425.5 303.4 L602.5 303.4 L602.5 534 Z M602.5 356 L655.8 356 L655.8 534 L602.5 534" fill="none" stroke="rgba(0,0,0,0.4)" stroke-width="1"/>
<path d="M425.0 356 L603.0 356" fill="none" stroke="rgba(0,0,0,0.58)" stroke-width="1.6"/>
<defs><linearGradient id="gd" x1="0" y1="1" x2="0" y2="0"><stop offset="0" stop-color="#f8f5f5"/><stop offset="0.25" stop-color="#efdcc0"/><stop offset="0.5" stop-color="#e6c596"/><stop offset="0.75" stop-color="#e5b46f"/><stop offset="1" stop-color="#e6a64a"/></linearGradient></defs>
<rect x="668.00" y="356.00" width="12.00" height="178.50" fill="url(#gd)" stroke="rgba(0,0,0,0.25)" stroke-width="1"/>
<text transform="translate(387.80,368.20) scale(0.95,1.06)" font-family="Liberation Mono" font-weight="bold" font-size="17">1</text>
<text transform="translate(387.80,386.28) scale(0.95,1.06)" font-family="Liberation Mono" font-weight="bold" font-size="17">O</text>
<circle cx="403.30" cy="384.58" r="1.5" fill="#000"/>
<text transform="translate(409.30,386.28) scale(0.95,1.06)" font-family="Liberation Mono" font-weight="bold" font-size="17">9</text>
<text transform="translate(387.80,404.36) scale(0.95,1.06)" font-family="Liberation Mono" font-weight="bold" font-size="17">O</text>
<circle cx="403.30" cy="402.66" r="1.5" fill="#000"/>
<text transform="translate(409.30,404.36) scale(0.95,1.06)" font-family="Liberation Mono" font-weight="bold" font-size="17">8</text>
<text transform="translate(387.80,422.44) scale(0.95,1.06)" font-family="Liberation Mono" font-weight="bold" font-size="17">O</text>
<circle cx="403.30" cy="420.74" r="1.5" fill="#000"/>
<text transform="translate(409.30,422.44) scale(0.95,1.06)" font-family="Liberation Mono" font-weight="bold" font-size="17">7</text>
<text transform="translate(387.80,440.52) scale(0.95,1.06)" font-family="Liberation Mono" font-weight="bold" font-size="17">O</text>
<circle cx="403.30" cy="438.82" r="1.5" fill="#000"/>
<text transform="translate(409.30,440.52) scale(0.95,1.06)" font-family="Liberation Mono" font-weight="bold" font-size="17">6</text>
<text transform="translate(387.80,458.60) scale(0.95,1.06)" font-family="Liberation Mono" font-weight="bold" font-size="17">O</text>
<circle cx="403.30" cy="456.90" r="1.5" fill="#000"/>
<text transform="translate(409.30,458.60) scale(0.95,1.06)" font-family="Liberation Mono" font-weight="bold" font-size="17">5</text>
<text transform="translate(387.80,476.68) scale(0.95,1.06)" font-family="Liberation Mono" font-weight="bold" font-size="17">O</text>
<circle cx="403.30" cy="474.98" r="1.5" fill="#000"/>
<text transform="translate(409.30,476.68) scale(0.95,1.06)" font-family="Liberation Mono" font-weight="bold" font-size="17">4</text>
<text transform="translate(387.80,494.76) scale(0.95,1.06)" font-family="Liberation Mono" font-weight="bold" font-size="17">O</text>
<circle cx="403.30" cy="493.06" r="1.5" fill="#000"/>
<text transform="translate(409.30,494.76) scale(0.95,1.06)" font-family="Liberation Mono" font-weight="bold" font-size="17">3</text>
<text transform="translate(387.80,512.84) scale(0.95,1.06)" font-family="Liberation Mono" font-weight="bold" font-size="17">O</text>
<circle cx="403.30" cy="511.14" r="1.5" fill="#000"/>
<text transform="translate(409.30,512.84) scale(0.95,1.06)" font-family="Liberation Mono" font-weight="bold" font-size="17">2</text>
<text transform="translate(387.80,530.92) scale(0.95,1.06)" font-family="Liberation Mono" font-weight="bold" font-size="17">O</text>
<circle cx="403.30" cy="529.22" r="1.5" fill="#000"/>
<text transform="translate(409.30,530.92) scale(0.95,1.06)" font-family="Liberation Mono" font-weight="bold" font-size="17">1</text>
<text transform="translate(425.70,538.50) rotate(90) scale(0.95,1.06)" font-family="Liberation Mono" font-weight="bold" font-size="17">O</text>
<circle cx="427.90" cy="554.30" r="1.5" fill="#000"/>
<text transform="translate(425.70,559.90) rotate(90) scale(0.95,1.06)" font-family="Liberation Mono" font-weight="bold" font-size="17">1</text>
<text transform="translate(443.78,538.50) rotate(90) scale(0.95,1.06)" font-family="Liberation Mono" font-weight="bold" font-size="17">O</text>
<circle cx="445.98" cy="554.30" r="1.5" fill="#000"/>
<text transform="translate(443.78,559.90) rotate(90) scale(0.95,1.06)" font-family="Liberation Mono" font-weight="bold" font-size="17">2</text>
<text transform="translate(461.86,538.50) rotate(90) scale(0.95,1.06)" font-family="Liberation Mono" font-weight="bold" font-size="17">O</text>
<circle cx="464.06" cy="554.30" r="1.5" fill="#000"/>
<text transform="translate(461.86,559.90) rotate(90) scale(0.95,1.06)" font-family="Liberation Mono" font-weight="bold" font-size="17">3</text>
<text transform="translate(479.94,538.50) rotate(90) scale(0.95,1.06)" font-family="Liberation Mono" font-weight="bold" font-size="17">O</text>
<circle cx="482.14" cy="554.30" r="1.5" fill="#000"/>
<text transform="translate(479.94,559.90) rotate(90) scale(0.95,1.06)" font-family="Liberation Mono" font-weight="bold" font-size="17">4</text>
<text transform="translate(498.02,538.50) rotate(90) scale(0.95,1.06)" font-family="Liberation Mono" font-weight="bold" font-size="17">O</text>
<circle cx="500.22" cy="554.30" r="1.5" fill="#000"/>
<text transform="translate(498.02,559.90) rotate(90) scale(0.95,1.06)" font-family="Liberation Mono" font-weight="bold" font-size="17">5</text>
<text transform="translate(516.10,538.50) rotate(90) scale(0.95,1.06)" font-family="Liberation Mono" font-weight="bold" font-size="17">O</text>
<circle cx="518.30" cy="554.30" r="1.5" fill="#000"/>
<text transform="translate(516.10,559.90) rotate(90) scale(0.95,1.06)" font-family="Liberation Mono" font-weight="bold" font-size="17">6</text>
<text transform="translate(534.18,538.50) rotate(90) scale(0.95,1.06)" font-family="Liberation Mono" font-weight="bold" font-size="17">O</text>
<circle cx="536.38" cy="554.30" r="1.5" fill="#000"/>
<text transform="translate(534.18,559.90) rotate(90) scale(0.95,1.06)" font-family="Liberation Mono" font-weight="bold" font-size="17">7</text>
<text transform="translate(552.26,538.50) rotate(90) scale(0.95,1.06)" font-family="Liberation Mono" font-weight="bold" font-size="17">O</text>
<circle cx="554.46" cy="554.30" r="1.5" fill="#000"/>
<text transform="translate(552.26,559.90) rotate(90) scale(0.95,1.06)" font-family="Liberation Mono" font-weight="bold" font-size="17">8</text>
<text transform="translate(570.34,538.50) rotate(90) scale(0.95,1.06)" font-family="Liberation Mono" font-weight="bold" font-size="17">O</text>
<circle cx="572.54" cy="554.30" r="1.5" fill="#000"/>
<text transform="translate(570.34,559.90) rotate(90) scale(0.95,1.06)" font-family="Liberation Mono" font-weight="bold" font-size="17">9</text>
<text transform="translate(588.42,538.50) rotate(90) scale(0.95,1.06)" font-family="Liberation Mono" font-weight="bold" font-size="17">1</text>
<text x="377.7" y="309.5" font-family="Liberation Sans" font-size="17" stroke="#000" stroke-width="0.15">(<tspan font-weight="bold">d</tspan>)</text>
<text x="497.3" y="335.7" font-family="Liberation Sans" font-size="23" stroke="#000" stroke-width="0.3" >S</text>
<text x="513.3" y="338.2" font-family="Liberation Sans" font-size="12" stroke="#000" stroke-width="0.12" >PPI</text>
<text x="612.7" y="454" font-family="Liberation Sans" font-size="23" stroke="#000" stroke-width="0.3" >S</text>
<text x="628.7" y="456.5" font-family="Liberation Sans" font-size="12" stroke="#000" stroke-width="0.12" >Prot</text>
<text x="476.3" y="482" font-family="Liberation Sans" font-size="16.5" stroke="#000" stroke-width="0.3" >Yeast-only</text>
<text x="575.7" y="418.7" font-family="Liberation Sans" font-size="12.2" stroke="#000" stroke-width="0.12" >0.39</text>
<text x="479" y="528.2" font-family="Liberation Sans" font-size="12.2" stroke="#000" stroke-width="0.12" >0.013</text>
<text x="684.4" y="368.8" font-family="Liberation Sans" font-size="14" stroke="#000" stroke-width="0.2" >0.25 - 0.39</text>
<text x="684.2" y="531.2" font-family="Liberation Sans" font-size="14" stroke="#000" stroke-width="0.2" >0</text>
<line x1="593.1" y1="371.3" x2="593.1" y2="405" stroke="#1e1e1e" stroke-width="1.05"/>
<path d="M593.1 366.3 L590.1 372.3 L593.1 371.3 L596.1 372.3 Z" fill="#000"/>
<line x1="439.9" y1="524.4" x2="475.2" y2="524.4" stroke="#1e1e1e" stroke-width="1.05"/>
<path d="M434.9 524.4 L441.9 521.4 L440.9 524.4 L441.9 527.4 Z" fill="#000"/>
</g></svg></div></body></html>
